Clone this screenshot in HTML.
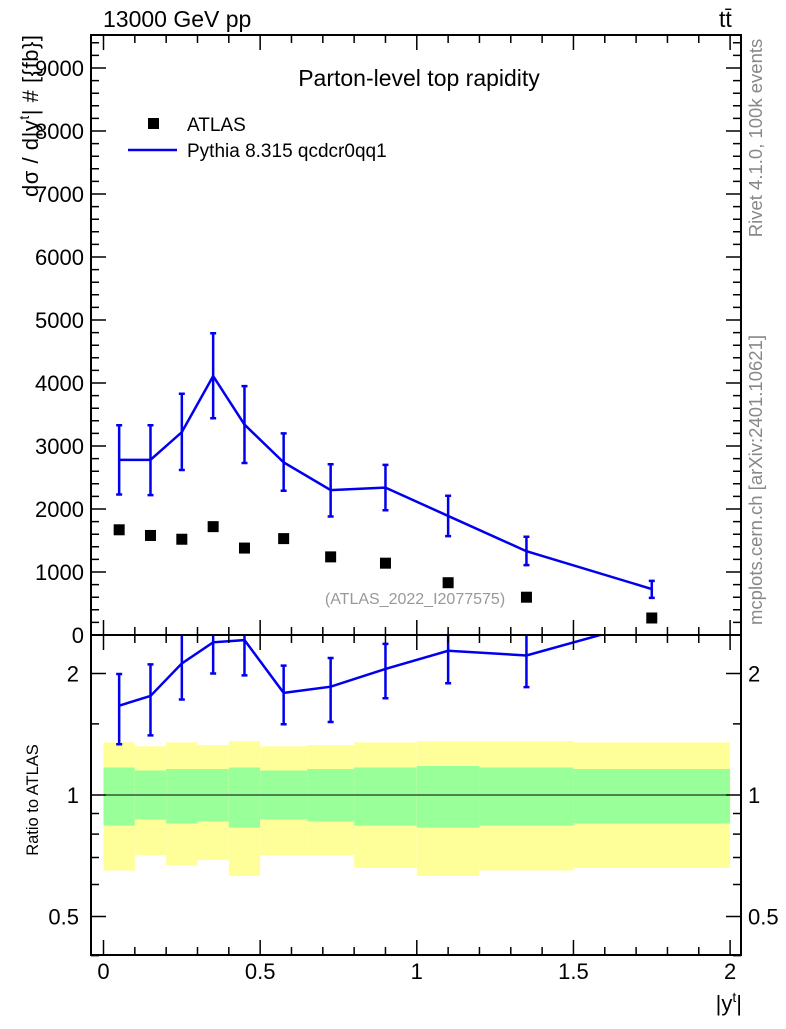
<!DOCTYPE html>
<html><head><meta charset="utf-8"><style>
body{margin:0;background:#fff;}
svg text{font-family:"Liberation Sans",sans-serif;}
</style></head><body>
<svg id="c" width="786" height="1024" xmlns="http://www.w3.org/2000/svg"></svg>
<script>
const edges=[0,0.1,0.2,0.3,0.4,0.5,0.65,0.8,1.0,1.2,1.5,2.0];
const centers=[0.05,0.15,0.25,0.35,0.45,0.575,0.725,0.9,1.1,1.35,1.75];
const atlas=[1670,1580,1520,1720,1380,1530,1240,1140,830,600,270];
const mc=[2780,2780,3220,4110,3340,2740,2300,2340,1890,1330,730];
const mcUp=[3330,3330,3830,4790,3950,3200,2710,2700,2210,1560,860];
const mcDn=[2230,2220,2620,3440,2730,2290,1880,1980,1570,1110,590];
const yelUp=[1.35,1.32,1.35,1.33,1.36,1.32,1.33,1.35,1.36,1.36,1.35];
const yelDn=[0.65,0.71,0.67,0.69,0.63,0.71,0.71,0.66,0.63,0.65,0.66];
const grnUp=[1.17,1.15,1.16,1.16,1.17,1.15,1.16,1.17,1.18,1.17,1.16];
const grnDn=[0.84,0.87,0.85,0.86,0.83,0.87,0.86,0.84,0.83,0.84,0.85];
const mainTicks=[0,1000,2000,3000,4000,5000,6000,7000,8000,9000];
const xTicks=[0,0.5,1,1.5,2];
const xTickLabels=["0","0.5","1","1.5","2"];
const ratioTicks=[0.5,1,2];

const L=91,R=741,T=35,M=635,B=955;
const X=v=>103.5+v*313.3;
const Y=v=>635-v*0.063;
const YR=v=>795-Math.log2(v)*121.5;
const RMAX=2.49;
const s=document.getElementById('c');
function el(t,a,txt){const e=document.createElementNS('http://www.w3.org/2000/svg',t);for(const k in a)e.setAttribute(k,a[k]);if(txt!==undefined)e.textContent=txt;s.appendChild(e);return e;}
for(let i=0;i<centers.length;i++){
 let e=el('rect',{x:X(edges[i]),y:YR(yelUp[i]),width:X(edges[i+1])-X(edges[i]),height:YR(yelDn[i])-YR(yelUp[i]),fill:'#ffff99'});
 
 e=el('rect',{x:X(edges[i]),y:YR(grnUp[i]),width:X(edges[i+1])-X(edges[i]),height:YR(grnDn[i])-YR(grnUp[i]),fill:'#99ff99'});
 
}
el('line',{x1:X(0),x2:X(2),y1:YR(1),y2:YR(1),stroke:'#000','stroke-width':1});
const defs=el('defs',{});
defs.innerHTML='<clipPath id="cm"><rect x="91" y="35" width="650" height="600"/></clipPath><clipPath id="cr"><rect x="91" y="635" width="650" height="320"/></clipPath>';
let g=el('g',{'clip-path':'url(#cm)'});
let pl=document.createElementNS('http://www.w3.org/2000/svg','polyline');
pl.setAttribute('points',centers.map((c,i)=>X(c)+','+Y(mc[i])).join(' '));pl.setAttribute('fill','none');pl.setAttribute('stroke','#0000ee');pl.setAttribute('stroke-width','2.5');
g.appendChild(pl);
for(let i=0;i<centers.length;i++){
 const x=X(centers[i]);
 const e=document.createElementNS('http://www.w3.org/2000/svg','path');
 e.setAttribute('d',`M${x},${Y(mcUp[i])}V${Y(mcDn[i])}M${x-3},${Y(mcUp[i])}h6M${x-3},${Y(mcDn[i])}h6`);
 e.setAttribute('stroke','#0000ee');e.setAttribute('stroke-width','2.5');
 g.appendChild(e);
 const r=document.createElementNS('http://www.w3.org/2000/svg','rect');
 r.setAttribute('x',x-5.5);r.setAttribute('y',Y(atlas[i])-5.5);r.setAttribute('width',11);r.setAttribute('height',11);
 g.appendChild(r);
}
g=el('g',{'clip-path':'url(#cr)'});
pl=document.createElementNS('http://www.w3.org/2000/svg','polyline');
pl.setAttribute('points',centers.map((c,i)=>X(c)+','+YR(mc[i]/atlas[i])).join(' '));
pl.setAttribute('fill','none');pl.setAttribute('stroke','#0000ee');pl.setAttribute('stroke-width','2.5');
g.appendChild(pl);
for(let i=0;i<centers.length;i++){
 if(mc[i]/atlas[i]>RMAX) continue;
 const x=X(centers[i]),u=YR(mcUp[i]/atlas[i]),d=YR(mcDn[i]/atlas[i]);
 const e=document.createElementNS('http://www.w3.org/2000/svg','path');
 e.setAttribute('d',`M${x},${u}V${d}M${x-3},${u}h6M${x-3},${d}h6`);
 e.setAttribute('stroke','#0000ee');e.setAttribute('stroke-width','2.5');
 g.appendChild(e);
}
el('rect',{x:L,y:T,width:R-L,height:M-T,fill:'none',stroke:'#000','stroke-width':2,});
el('rect',{x:L,y:M,width:R-L,height:B-M,fill:'none',stroke:'#000','stroke-width':2,});
let d='';
for(let v=0;v<=9400;v+=200){const y=Y(v);const len=v%1000==0?15:8;d+=`M${L},${y}h${len}M${R},${y}h${-len}`;}
for(let v=0;v<=2.05;v+=0.1){const x=X(v);const maj=Math.abs(v*2-Math.round(v*2))<1e-6;const len=maj?15:8;
 d+=`M${x},${M}v${-len}M${x},${T}v${len}M${x},${B}v${-len}M${x},${M}v${len}`;}
for(const v of [0.4,0.5,0.6,0.7,0.8,0.9,1,1.5,2]){const y=YR(v);const len=[0.5,1,2].includes(v)?15:8;d+=`M${L},${y}h${len}M${R},${y}h${-len}`;}
el('path',{d:d,stroke:'#000','stroke-width':1.5,fill:'none'});
mainTicks.forEach(v=>{const t=el('text',{x:84,y:Y(v)+8,'font-size':22,'text-anchor':'end'},String(v));});
ratioTicks.forEach(v=>{let t=el('text',{x:79,y:YR(v)+8,'font-size':22,'text-anchor':'end'},String(v));
 t=el('text',{x:748,y:YR(v)+8,'font-size':22},String(v));});
xTicks.forEach((v,i)=>{const t=el('text',{x:X(v),y:979,'font-size':22,'text-anchor':'middle'},xTickLabels[i]);});
</script>
<svg style="position:absolute;left:0;top:0" width="786" height="1024">
<text x="103" y="27" font-size="23" font-family="Liberation Sans">13000 GeV pp</text>
<text x="719" y="27" font-size="23" font-family="Liberation Sans">tt̄</text>
<text x="419" y="86" font-size="23" font-family="Liberation Sans" text-anchor="middle">Parton-level top rapidity</text>
<rect x="148" y="118" width="11" height="11"/>
<text x="187" y="131" font-size="19" font-family="Liberation Sans">ATLAS</text>
<line x1="128" x2="177" y1="150" y2="150" stroke="#0000ee" stroke-width="2.5"/>
<text x="187" y="157" font-size="19" font-family="Liberation Sans">Pythia 8.315 qcdcr0qq1</text>
<text x="415" y="604" font-size="16" fill="#999" font-family="Liberation Sans" text-anchor="middle">(ATLAS_2022_I2077575)</text>
<text transform="translate(38,197) rotate(-90)" font-size="22" font-family="Liberation Sans" textLength="162" lengthAdjust="spacing">dσ  /  d|y<tspan font-size="14" dy="-9">t</tspan><tspan dy="9">|  #  [{fb}]</tspan></text>
<text transform="translate(38,800) rotate(-90)" font-size="16.5" font-family="Liberation Sans" text-anchor="middle">Ratio to ATLAS</text>
<text x="742" y="1011" font-size="22" font-family="Liberation Sans" text-anchor="end">|y<tspan font-size="14" dy="-9">t</tspan><tspan dy="9">|</tspan></text>
<text transform="translate(762,138) rotate(-90)" font-size="18.5" fill="#888" font-family="Liberation Sans" text-anchor="middle">Rivet 4.1.0,  100k events</text>
<text transform="translate(762,480) rotate(-90)" font-size="18.5" fill="#888" font-family="Liberation Sans" text-anchor="middle">mcplots.cern.ch [arXiv:2401.10621]</text>
</svg>
</body></html>
